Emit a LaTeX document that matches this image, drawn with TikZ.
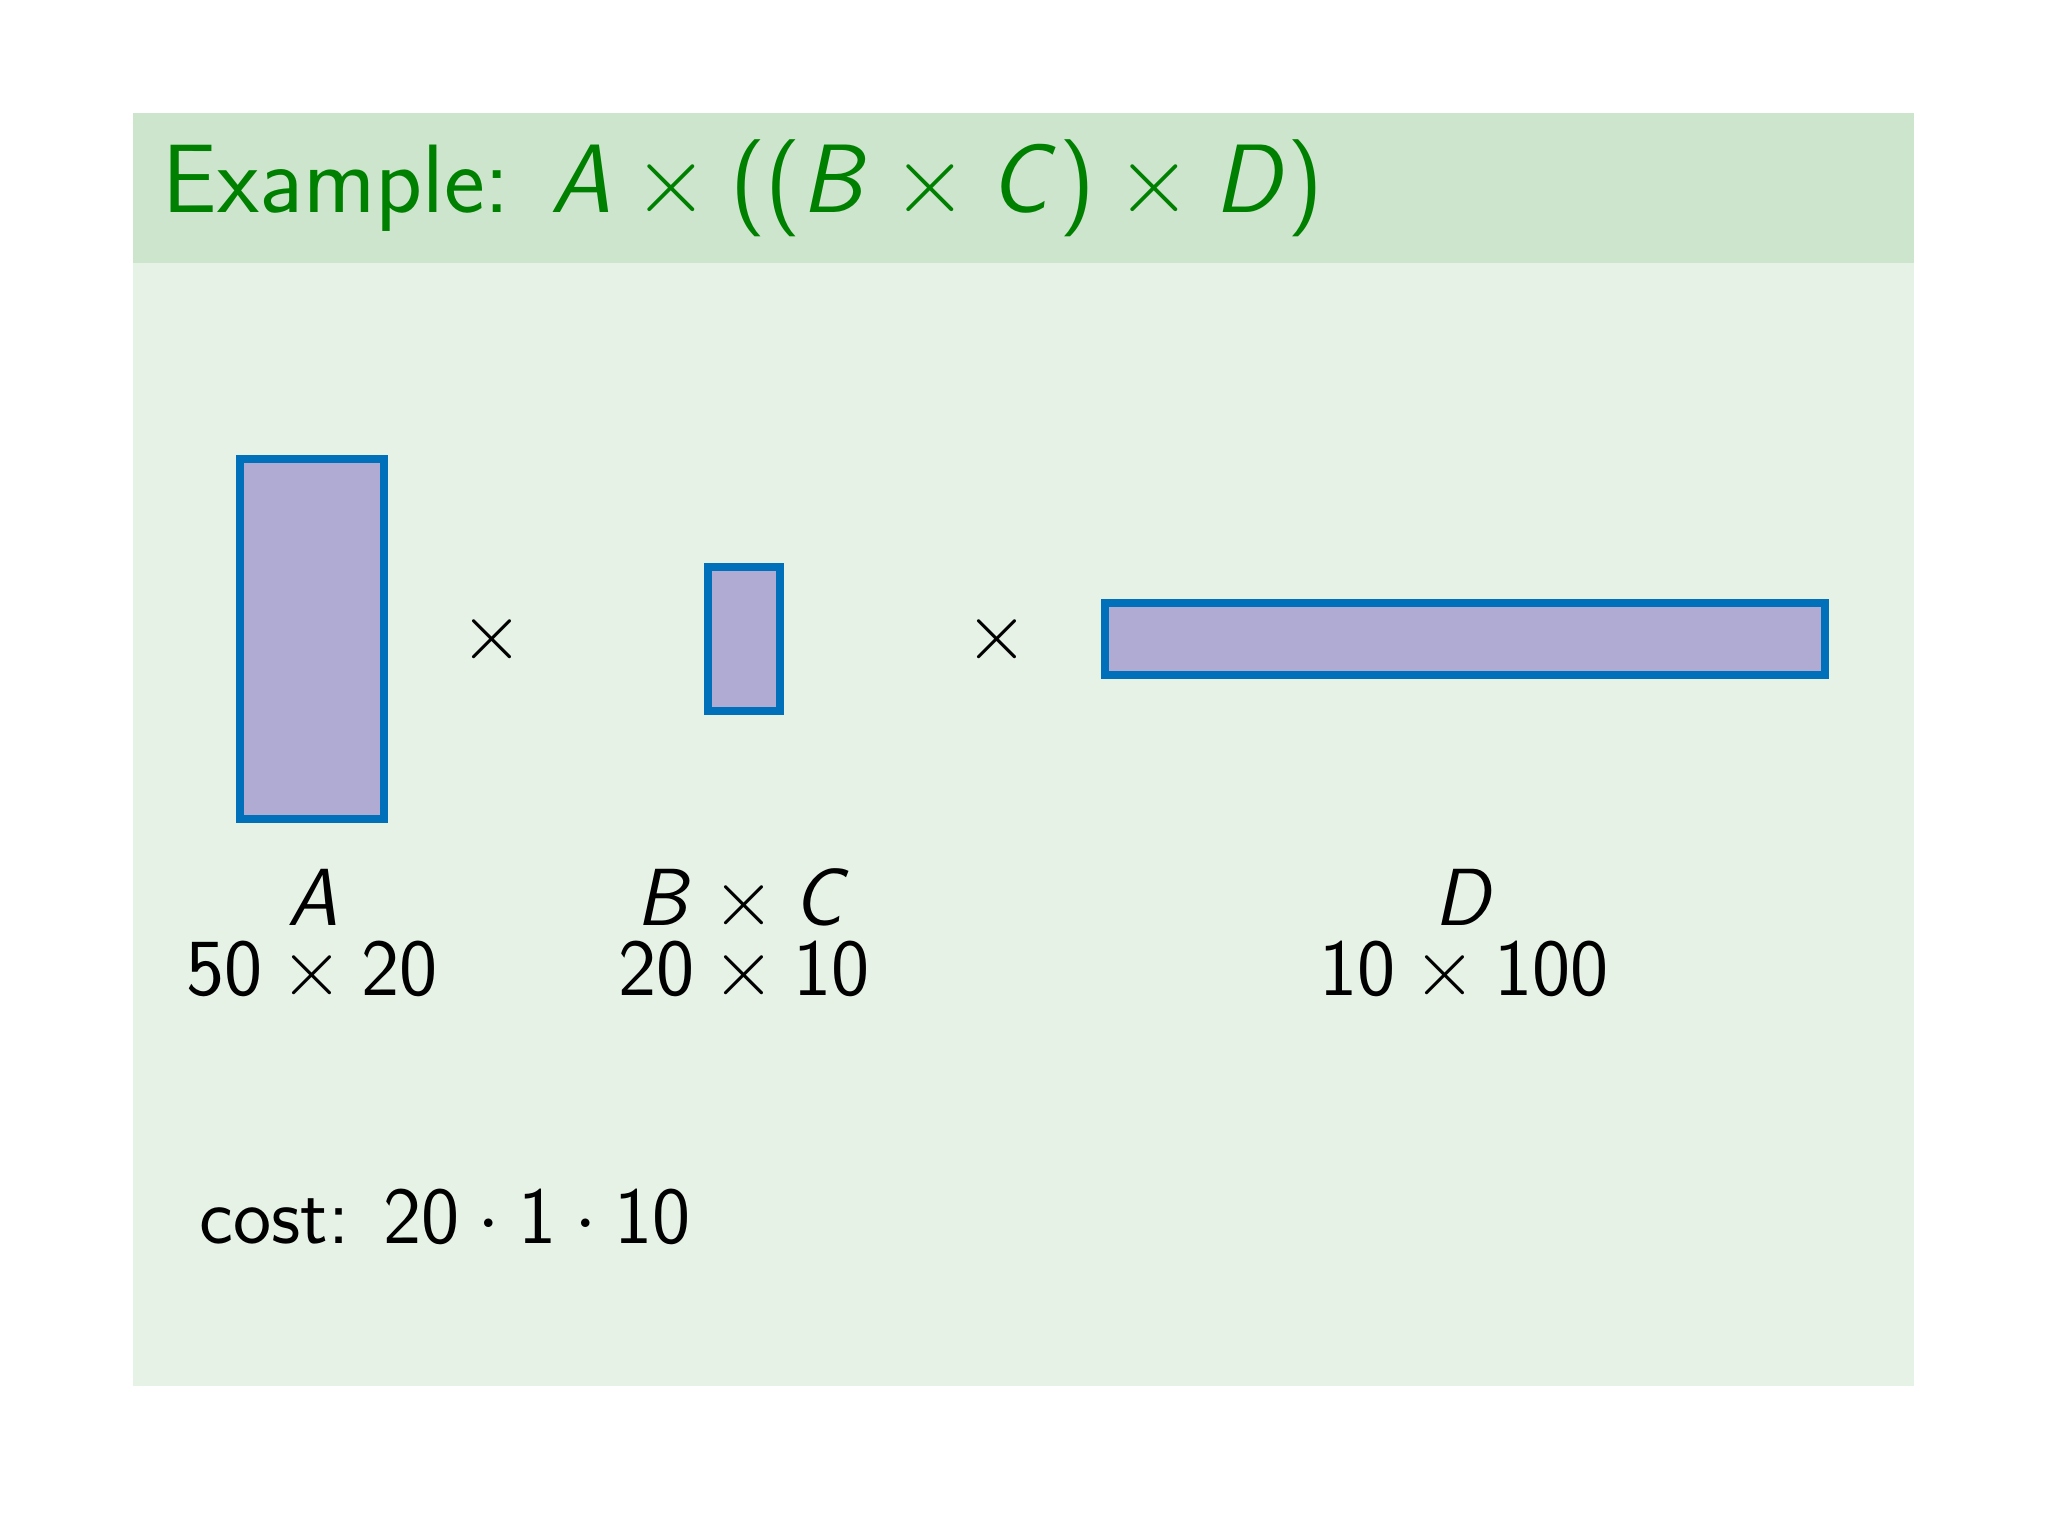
\RequirePackage{fix-cm}
\documentclass[tikz,border=0pt]{standalone}
\usepackage{amsmath}
\usepackage{tikz}
\usetikzlibrary{positioning}
\DeclareMathAlphabet{\mathsl}{OT1}{cmss}{m}{sl}
\DeclareSymbolFont{operators}{OT1}{cmss}{m}{n}
\newcommand{\mtx}[1]{\mathsl{#1}}
\definecolor{exfg}{rgb}{0,0.5,0}
\definecolor{extitle}{rgb}{0.8,0.9,0.8}
\definecolor{exbody}{rgb}{0.9,0.95,0.9}
\definecolor{matfill}{RGB}{175,171,211}
\definecolor{matline}{RGB}{0,112,186}
\tikzset{
  matbox/.style={draw=matline,fill=matfill,line width=2.3pt,inner sep=0pt},
  lbl/.style={anchor=base,inner sep=0pt}
}

\begin{document}
\begin{tikzpicture}[x=0.01cm,y=-0.01cm,font=\fontsize{23.04}{27}\selectfont\sffamily]
    \useasboundingbox (0,0) rectangle (2048,1536);
    % block
    \fill[exbody] (133,263) rectangle (1914,1386);
    \fill[extitle] (133,113) rectangle (1914,263);
    \node[anchor=base west, inner sep=0pt, text=exfg, font=\fontsize{27.65}{33}\selectfont\sffamily] (title) at (162,212)
      {Example: $\mtx{A}\times((\mtx{B}\times\mtx{C})\times\mtx{D})$};

    % the matrices
    \node[matbox, minimum width=1.44cm, minimum height=3.60cm] (matA) at (312,639) {};
    \node[matbox, minimum width=0.72cm, minimum height=1.44cm] (matBC) at (744,639) {};
    \node[matbox, minimum width=7.20cm, minimum height=0.72cm] (matD) at (1465,639) {};
    \node[inner sep=0pt] (timesA) at (492,639) {$\times$};
    \node[inner sep=0pt] (timesB) at (997,639) {$\times$};

    % labels
    \node[lbl] (nameA) at (313,925) {$\mtx{A}$};
    \node[lbl] (dimA) at (312,995) {$50\times20$};
    \node[lbl] (nameBC) at (744,925) {$\mtx{B}\times\mtx{C}$};
    \node[lbl] (dimBC) at (744,995) {$20\times10$};
    \node[lbl] (nameD) at (1465,925) {$\mtx{D}$};
    \node[lbl] (dimD) at (1464,995) {$10\times100$};

    \node[anchor=base west, inner sep=0pt] (cost) at (199,1243) {cost: $20\cdot1\cdot10$};
\end{tikzpicture}
\end{document}
